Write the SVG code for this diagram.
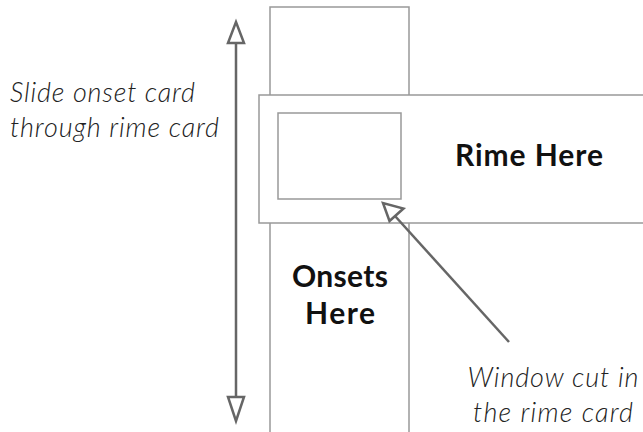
<svg xmlns="http://www.w3.org/2000/svg" width="643" height="432" viewBox="0 0 643 432">
  <defs>
    <style>
      .card { fill: #ffffff; stroke: #999999; stroke-width: 1.5; }
      .conn { stroke: #666666; stroke-width: 2.5; fill: none; }
      .head { fill: #ffffff; stroke: #666666; stroke-width: 2.5; stroke-linejoin: miter; }
      .note { font-family: Lato, "Open Sans", sans-serif; font-style: italic; font-weight: 300; font-size: 27px; fill: #222222; }
      .label { font-family: Lato, "Open Sans", sans-serif; font-weight: bold; font-size: 30px; fill: #111111; text-anchor: middle; }
    </style>
  </defs>

  <!-- onset card (slides vertically) -->
  <g id="onset-card">
    <rect class="card" x="270" y="7" width="139" height="440"/>
    <text class="label" x="340" y="287" textLength="96">Onsets</text>
    <text class="label" x="340" y="324" textLength="70">Here</text>
  </g>

  <!-- rime card with its window -->
  <g id="rime-card">
    <rect class="card" x="259" y="95" width="400" height="128"/>
    <rect class="card" x="278" y="113" width="123" height="86"/>
    <text class="label" x="529" y="166" textLength="148">Rime Here</text>
  </g>

  <g id="slide-note">
    <text class="note" x="10" y="102" textLength="185">Slide onset card</text>
    <text class="note" x="10" y="137" textLength="209">through rime card</text>
  </g>

  <g id="window-note">
    <text class="note" x="553" y="387" text-anchor="middle" textLength="171">Window cut in</text>
    <text class="note" x="553" y="422" text-anchor="middle" textLength="160">the rime card</text>
  </g>

  <!-- connectors -->
  <g id="connectors">
    <line class="conn" x1="236" y1="42" x2="236" y2="397"/>
    <polygon class="head" points="236,22 228,43 244,43"/>
    <polygon class="head" points="236,421 228,397 244,397"/>
    <line class="conn" x1="395" y1="216" x2="509" y2="342"/>
    <polygon class="head" points="383,203 389.5,221 403.5,208.5"/>
  </g>
</svg>
